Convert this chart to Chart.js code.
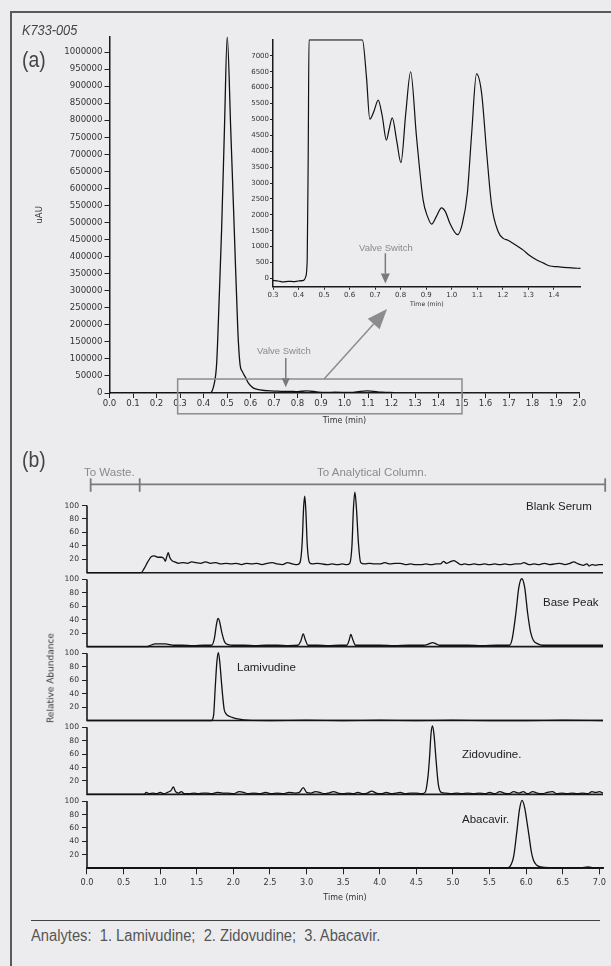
<!DOCTYPE html>
<html><head><meta charset="utf-8"><title>K733-005</title>
<script src="https://cdn.jsdelivr.net/npm/chart.js@4.4.1/dist/chart.umd.min.js"></script>
<style>
html,body{margin:0;padding:0;background:#ececee;}
body{position:relative;width:611px;height:966px;overflow:hidden;font-family:"Liberation Sans",Arial,sans-serif;}
#frame{position:absolute;left:10px;top:11px;width:640px;height:1000px;border-left:2px solid #5a5a5a;border-top:2px solid #5a5a5a;}
canvas{position:absolute;}
.lbl{position:absolute;white-space:nowrap;line-height:1;}
.cond{transform-origin:0 50%;}
.grey{color:#8a8a8a;}
.dark{color:#222;}
#rule{position:absolute;left:31px;top:920px;width:569px;height:0;border-top:1.5px solid #444;}
#relab{position:absolute;left:51px;top:678px;transform:translate(-50%,-50%) rotate(-90deg);white-space:nowrap;
  font-family:"DejaVu Sans",sans-serif;font-size:9px;color:#333;line-height:1;}
</style></head><body>
<div id="frame"></div>
<canvas id="cMain" width="611" height="440" style="left:0;top:0"></canvas>
<canvas id="cInset" width="380" height="300" style="left:230px;top:20px"></canvas>
<canvas id="cB" width="611" height="450" style="left:0;top:470px"></canvas>

<div class="lbl cond" style="left:22px;top:22px;font-size:15px;font-style:italic;color:#444;transform:scaleX(0.85)">K733-005</div>
<div class="lbl cond" style="left:22px;top:49px;font-size:22px;color:#444;transform:scaleX(0.88)">(a)</div>
<div class="lbl cond" style="left:22px;top:449px;font-size:22px;color:#444;transform:scaleX(0.88)">(b)</div>

<div class="lbl grey" style="left:257px;top:346px;font-size:9.5px">Valve Switch</div>
<div class="lbl grey" style="left:359px;top:243px;font-size:9.5px">Valve Switch</div>

<div class="lbl grey" style="left:84px;top:467px;font-size:11.5px">To Waste.</div>
<div class="lbl grey" style="left:317px;top:467px;font-size:11.5px">To Analytical Column.</div>

<div class="lbl dark" style="left:526px;top:501px;font-size:11.5px">Blank Serum</div>
<div class="lbl dark" style="left:543px;top:597px;font-size:11.5px">Base Peak</div>
<div class="lbl dark" style="left:237px;top:662px;font-size:11.5px">Lamivudine</div>
<div class="lbl dark" style="left:462px;top:749px;font-size:11.5px">Zidovudine.</div>
<div class="lbl dark" style="left:462px;top:814px;font-size:11.5px">Abacavir.</div>
<div id="relab">Relative Abundance</div>

<div id="rule"></div>
<div class="lbl cond" style="left:31px;top:928px;font-size:16px;color:#555;transform:scaleX(0.92)">Analytes:&nbsp; 1. Lamivudine;&nbsp; 2. Zidovudine;&nbsp; 3. Abacavir.</div>

<script>
// ================= DATA =================
// Panel (a) main trace
const mainXTicks = [0.0,0.1,0.2,0.3,0.4,0.5,0.6,0.7,0.8,0.9,1.0,1.1,1.2,1.3,1.4,1.5,1.6,1.7,1.8,1.9,2.0];
const mainYTicks = [0,50000,100000,150000,200000,250000,300000,350000,400000,450000,500000,
  550000,600000,650000,700000,750000,800000,850000,900000,950000,1000000];
const mainTime   = [0, 0.10, 0.20, 0.30, 0.40, 0.43, 0.435, 0.445, 0.456, 0.467, 0.477, 0.489, 0.501,
  0.516, 0.531, 0.546, 0.555, 0.566, 0.577, 0.592, 0.611, 0.64, 0.683, 0.715, 0.745, 0.767, 0.80,
  0.84, 0.89, 0.92, 0.96, 1.02, 1.097, 1.16, 1.21];
const mainSignal = [0, 0, 0, 0, 0, 0, 4000, 25000, 87000, 282000, 478000, 771000, 1045000,
  771000, 478000, 185000, 87000, 62000, 48000, 28000, 15000, 9000, 6000, 5600, 4400, 5000, 3700,
  6500, 2500, 1700, 2250, 1400, 6400, 2300, 1200];

// Panel (a) inset (zoomed) trace
const insetXTicks = [0.3,0.4,0.5,0.6,0.7,0.8,0.9,1.0,1.1,1.2,1.3,1.4];
const insetYTicks = [0,500,1000,1500,2000,2500,3000,3500,4000,4500,5000,5500,6000,6500,7000];
const insetTime   = [0.30, 0.32, 0.34, 0.36, 0.38, 0.40, 0.42, 0.428, 0.434, 0.438, 0.441, 0.50, 0.60,
  0.650, 0.666, 0.679, 0.695, 0.712, 0.728, 0.744, 0.755, 0.767, 0.785, 0.801, 0.82, 0.839, 0.862,
  0.888, 0.905, 0.921, 0.94, 0.960, 0.975, 0.993, 1.023, 1.041, 1.061, 1.078, 1.097, 1.117, 1.137,
  1.156, 1.182, 1.202, 1.22, 1.241, 1.26, 1.280, 1.305, 1.333, 1.36, 1.385, 1.41, 1.437, 1.47, 1.505];
const insetSignal = [-60, -80, -110, -90, -100, -80, -60, 50, 600, 4000, 7500, 7500, 7500,
  7500, 6340, 5010, 5250, 5610, 5100, 4350, 4700, 5050, 4300, 3640, 5200, 6500, 4450,
  2460, 1950, 1710, 1950, 2220, 2100, 1730, 1380, 1710, 2670, 4560, 6430, 5820, 3930,
  2310, 1470, 1260, 1200, 1100, 1000, 890, 720, 580, 480, 390, 370, 350, 330, 315];

// Panel (b) — [time (min), relative abundance]
const bXTicks = [0.0,0.5,1.0,1.5,2.0,2.5,3.0,3.5,4.0,4.5,5.0,5.5,6.0,6.5,7.0];
const bYTicks = [20,40,60,80,100];
const blankSerum = [[0.00,0],[0.74,0],[0.78,6],[0.83,16],[0.88,24],[0.92,25],[0.97,23],[1.02,23],[1.05,21],
  [1.07,17],[1.09,24],[1.11,30],[1.13,23],[1.16,18],[1.20,16],[1.25,14],[1.31,15],[1.37,14],[1.43,16],
  [1.49,15],[1.55,14],[1.62,16],[1.69,14],[1.76,15],[1.83,13],[1.90,14],[1.97,13],[2.04,14],[2.11,12],
  [2.18,14],[2.25,13],[2.32,14],[2.39,12],[2.46,14],[2.53,15],[2.60,13],[2.67,12],[2.74,15],[2.81,13],
  [2.87,12],[2.91,15],[2.94,45],[2.96,98],[2.975,114],[2.99,92],[3.01,40],[3.04,15],[3.08,13],[3.14,14],
  [3.21,13],[3.28,12],[3.35,13],[3.42,12],[3.49,13],[3.55,12],[3.59,14],[3.62,40],[3.64,95],[3.66,120],
  [3.68,98],[3.71,42],[3.74,15],[3.79,13],[3.86,14],[3.93,13],[4.00,13],[4.07,15],[4.14,13],[4.21,14],
  [4.28,14],[4.35,12],[4.42,13],[4.49,12],[4.56,12],[4.63,13],[4.70,12],[4.77,13],[4.83,13],[4.87,17],
  [4.91,14],[4.96,16],[5.01,18],[5.06,15],[5.11,12],[5.16,13],[5.22,12],[5.29,13],[5.36,12],[5.43,13],
  [5.50,12],[5.57,13],[5.64,12],[5.71,13],[5.78,12],[5.85,13],[5.92,13],[5.97,15],[6.04,12],[6.11,13],
  [6.18,12],[6.25,14],[6.32,12],[6.39,13],[6.46,14],[6.53,12],[6.60,14],[6.65,16],[6.71,13],[6.78,11],
  [6.83,13],[6.86,10],[6.90,12],[6.95,11],[7.00,12],[7.05,12]];
const basePeak = [[0,0],[0.82,0],[0.87,2],[0.93,4],[1.00,4],[1.07,4],[1.13,3],[1.18,2],[1.30,2],[1.45,1.5],
  [1.60,2],[1.70,2],[1.74,12],[1.77,34],[1.79,42],[1.81,38],[1.84,22],[1.88,7],[1.93,3],[2.00,2],
  [2.15,2],[2.30,1.5],[2.45,2],[2.60,2],[2.75,1.5],[2.88,2],[2.92,8],[2.955,19],[2.98,11],[3.02,2],
  [3.15,2],[3.30,1.5],[3.45,2],[3.55,2],[3.58,9],[3.605,18],[3.63,11],[3.67,2],[3.80,2],[4.00,2],
  [4.20,1.5],[4.40,2],[4.60,2],[4.67,4],[4.72,6],[4.77,4],[4.82,2],[5.00,2],[5.20,2],[5.40,1.5],
  [5.60,2],[5.77,2],[5.81,12],[5.86,50],[5.90,88],[5.94,101],[5.98,88],[6.02,50],[6.06,22],[6.10,9],
  [6.16,4],[6.22,2],[6.40,2],[6.60,2],[6.80,2],[7.05,2]];
const lamivudine = [[0,0],[1.70,0],[1.73,8],[1.75,45],[1.775,88],[1.795,101],[1.815,86],[1.835,60],
  [1.855,35],[1.875,16],[1.90,10],[1.95,6],[2.00,4],[2.08,2],[2.20,0.5],[2.50,0],[3.00,0.5],[3.50,0],
  [4.00,0.5],[4.50,0],[5.00,0.5],[5.50,0],[6.00,0],[6.50,0.5],[7.05,0]];
const zidovudine = [[0,0],[0.78,0],[0.81,3],[0.85,1],[0.90,2],[0.95,1],[1.00,3],[1.05,1],[1.10,3],[1.15,6],
  [1.18,11],[1.21,4],[1.25,2],[1.29,4],[1.33,1],[1.40,1],[1.46,2],[1.52,1],[1.58,2],[1.64,2],
  [1.70,1],[1.78,3],[1.85,2],[1.92,2],[2.00,1],[2.08,4],[2.14,3],[2.20,1],[2.28,2],[2.36,1],
  [2.44,3],[2.52,1],[2.60,2],[2.68,1],[2.76,3],[2.84,2],[2.90,3],[2.955,10],[3.00,3],[3.06,2],
  [3.12,4],[3.18,3],[3.24,1],[3.30,2],[3.37,4],[3.43,2],[3.50,1],[3.57,2],[3.64,1],[3.70,3],
  [3.77,1],[3.83,2],[3.89,5],[3.95,2],[4.02,1],[4.09,3],[4.16,1],[4.22,2],[4.28,3],[4.35,1],
  [4.42,2],[4.50,2],[4.56,1],[4.62,3],[4.66,28],[4.68,55],[4.70,90],[4.72,102],[4.74,90],[4.77,50],
  [4.80,15],[4.84,3],[4.90,2],[4.98,1],[5.05,2],[5.12,1],[5.20,2],[5.28,1],[5.36,2],[5.44,1],
  [5.50,3],[5.57,1],[5.64,4],[5.70,2],[5.76,1],[5.83,4],[5.90,2],[5.96,4],[6.02,1],[6.09,4],
  [6.15,2],[6.22,1],[6.29,3],[6.36,4],[6.42,1],[6.49,2],[6.56,1],[6.63,2],[6.70,1],[6.77,2],
  [6.84,1],[6.90,4],[6.95,3],[7.00,4],[7.05,2]];
const abacavir = [[0,0],[5.72,0],[5.78,3],[5.83,18],[5.87,52],[5.91,88],[5.945,101],[5.98,90],[6.01,70],
  [6.04,48],[6.07,25],[6.10,12],[6.14,5],[6.20,2],[6.35,1],[6.50,0.5],[6.75,1],[6.85,2],[6.92,1],[7.05,1]];
const panelSeries = [blankSerum, basePeak, lamivudine, zidovudine, abacavir];

// Annotation positions (data units)
const zoomBox = {x0:0.29, x1:1.50, yTop:41000, yBottom:-61000};
const valveMain = {x:0.75, yFrom:103000, yTo:17000};
const zoomArrow = {x0:0.913, y0:41000, x1:1.181, y1:246000};
const valveInset = {x:0.74, yFrom:790, yTo:-160};
const flowBracket = {start:0.05, switchAt:0.72, end:7.08};

// ================= CHARTS =================
Chart.defaults.font.family = 'DejaVu Sans';
Chart.defaults.color = '#333';
const pairs = (xs, ys) => xs.map((t, i) => ({x: t, y: ys[i]}));
const fixTicks = arr => (s => { s.ticks = arr.map(v => ({value: v})); });

function arrow(ctx, x0, y0, x1, y1, len, half) {
  ctx.beginPath(); ctx.moveTo(x0, y0);
  const a = Math.atan2(y1 - y0, x1 - x0);
  const bx = x1 - len * Math.cos(a), by = y1 - len * Math.sin(a);
  ctx.lineTo(bx, by); ctx.stroke();
  ctx.beginPath(); ctx.moveTo(x1, y1);
  ctx.lineTo(bx + half * Math.sin(a), by - half * Math.cos(a));
  ctx.lineTo(bx - half * Math.sin(a), by + half * Math.cos(a));
  ctx.closePath(); ctx.fill();
}

const mainAnnot = {
  id: 'mainAnnot',
  afterDatasetsDraw(chart) {
    const {ctx, scales: {x, y}} = chart;
    ctx.save();
    ctx.strokeStyle = '#8c8c8c'; ctx.fillStyle = '#8c8c8c'; ctx.lineWidth = 1.5;
    const bx0 = x.getPixelForValue(zoomBox.x0), bx1 = x.getPixelForValue(zoomBox.x1);
    const by0 = y.getPixelForValue(zoomBox.yTop), by1 = y.getPixelForValue(zoomBox.yBottom);
    ctx.strokeRect(bx0, by0, bx1 - bx0, by1 - by0);
    ctx.strokeStyle = '#7a7a7a'; ctx.fillStyle = '#7a7a7a';
    arrow(ctx, x.getPixelForValue(valveMain.x), y.getPixelForValue(valveMain.yFrom),
      x.getPixelForValue(valveMain.x), y.getPixelForValue(valveMain.yTo), 9, 4);
    ctx.strokeStyle = '#8c8c8c'; ctx.fillStyle = '#8c8c8c';
    arrow(ctx, x.getPixelForValue(zoomArrow.x0), y.getPixelForValue(zoomArrow.y0),
      x.getPixelForValue(zoomArrow.x1), y.getPixelForValue(zoomArrow.y1), 20, 8);
    ctx.restore();
  }
};

const insetAnnot = {
  id: 'insetAnnot',
  afterDatasetsDraw(chart) {
    const {ctx, scales: {x, y}} = chart;
    ctx.save();
    ctx.strokeStyle = '#7a7a7a'; ctx.fillStyle = '#7a7a7a'; ctx.lineWidth = 1.5;
    arrow(ctx, x.getPixelForValue(valveInset.x), y.getPixelForValue(valveInset.yFrom),
      x.getPixelForValue(valveInset.x), y.getPixelForValue(valveInset.yTo), 10, 4.5);
    ctx.restore();
  }
};

const axisCommon = (tickLength) => ({
  grid: {display: true, drawOnChartArea: false, drawTicks: true, tickLength, color: '#222', lineWidth: 1},
  border: {display: true, color: '#1a1a1a', width: 1.5}
});

new Chart(document.getElementById('cMain'), {
  type: 'line',
  data: {datasets: [{data: pairs(mainTime, mainSignal), borderColor: '#111', borderWidth: 1.3,
    pointRadius: 0, cubicInterpolationMode: 'monotone', fill: false}]},
  options: {
    responsive: false, animation: false, devicePixelRatio: 1,
    layout: {padding: {left: 31, right: 31.5, top: 36.7, bottom: 10}},
    plugins: {legend: {display: false}, tooltip: {enabled: false}},
    scales: {
      x: Object.assign(axisCommon(5), {type: 'linear', min: 0, max: 2.0,
        afterBuildTicks: fixTicks(mainXTicks), afterFit: s => { s.height = 37; },
        ticks: {font: {size: 8.6}, padding: 1, maxRotation: 0, autoSkip: false, callback: v => v.toFixed(1)},
        title: {display: true, text: 'Time (min)', font: {size: 8}}}),
      y: Object.assign(axisCommon(5), {type: 'linear', min: 0, max: 1045000,
        afterBuildTicks: fixTicks(mainYTicks), afterFit: s => { s.width = 78.5; },
        ticks: {font: {size: 8.6}, padding: 2, autoSkip: false, callback: v => String(v)},
        title: {display: true, text: 'uAU', font: {size: 8.5}}})
    }
  },
  plugins: [mainAnnot]
});

new Chart(document.getElementById('cInset'), {
  type: 'line',
  data: {datasets: [{data: pairs(insetTime, insetSignal), borderColor: '#111', borderWidth: 1.2,
    pointRadius: 0, cubicInterpolationMode: 'monotone', fill: false}]},
  options: {
    responsive: false, animation: false, devicePixelRatio: 1,
    layout: {padding: {left: 0, right: 29.3, top: 19.3, bottom: 8.3}},
    plugins: {legend: {display: false}, tooltip: {enabled: false}},
    scales: {
      x: Object.assign(axisCommon(3), {type: 'linear', min: 0.3, max: 1.505,
        afterBuildTicks: fixTicks(insetXTicks), afterFit: s => { s.height = 25; },
        ticks: {font: {size: 7}, padding: 1.5, maxRotation: 0, autoSkip: false, callback: v => v.toFixed(1)},
        title: {display: true, text: 'Time (min)', font: {size: 6.2}}}),
      y: Object.assign(axisCommon(3), {type: 'linear', min: -260, max: 7520,
        afterBuildTicks: fixTicks(insetYTicks), afterFit: s => { s.width = 43; },
        ticks: {font: {size: 7}, padding: 1, autoSkip: false, callback: v => String(v)}})
    }
  },
  plugins: [insetAnnot]
});

const panelIds = ['p1', 'p2', 'p3', 'p4', 'p5'];
const bScales = {
  x: {type: 'linear', min: 0, max: 7.05, position: 'bottom',
    afterBuildTicks: fixTicks(bXTicks), afterFit: s => { s.height = 38.2; },
    grid: {display: true, drawOnChartArea: false, drawTicks: true, tickLength: 6, color: '#222', lineWidth: 1},
    border: {display: true, color: '#111', width: 1.8},
    ticks: {font: {size: 8.2}, padding: 4, maxRotation: 0, autoSkip: false, callback: v => v.toFixed(1)},
    title: {display: true, text: 'Time (min)', font: {size: 8}}}
};
panelIds.forEach((id, i) => {
  bScales[id] = {type: 'linear', position: 'left', stack: 'panels', stackWeight: 1, weight: 5 - i,
    min: 0, max: 110, afterBuildTicks: fixTicks(bYTicks), afterFit: s => { s.width = 44.4; },
    grid: {display: true, drawOnChartArea: false, drawTicks: true, tickLength: 5, color: '#222', lineWidth: 1},
    border: {display: false},
    ticks: {font: {size: 7.6}, padding: 3, autoSkip: false, callback: v => String(v)}};
});

const panelFrame = {
  id: 'panelFrame',
  beforeDatasetsDraw(chart) {
    const {ctx, scales} = chart;
    const x = scales.x;
    ctx.save();
    ctx.strokeStyle = '#1a1a1a'; ctx.lineWidth = 1.6;
    panelIds.forEach(id => {
      const s = scales[id];
      const y0 = s.getPixelForValue(0), yT = s.getPixelForValue(100);
      ctx.beginPath(); ctx.moveTo(x.left, yT); ctx.lineTo(x.left, y0); ctx.lineTo(x.right, y0); ctx.stroke();
    });
    // flow bracket above the panels
    const yl = chart.chartArea.top - 14.5;
    ctx.strokeStyle = '#7a7a7a'; ctx.lineWidth = 1.8;
    const xs = x.getPixelForValue(flowBracket.start), xm = x.getPixelForValue(flowBracket.switchAt),
          xe = x.getPixelForValue(flowBracket.end);
    ctx.beginPath(); ctx.moveTo(xs, yl); ctx.lineTo(xe, yl); ctx.stroke();
    [xs, xm, xe].forEach(px => { ctx.beginPath(); ctx.moveTo(px, yl - 6); ctx.lineTo(px, yl + 7.5); ctx.stroke(); });
    ctx.restore();
  }
};

new Chart(document.getElementById('cB'), {
  type: 'line',
  data: {datasets: panelSeries.map((ser, i) => ({
    data: ser.map(p => ({x: p[0], y: p[1]})), yAxisID: panelIds[i],
    borderColor: '#111', borderWidth: 1.3, pointRadius: 0, cubicInterpolationMode: 'monotone',
    fill: false, clip: false}))},
  options: {
    responsive: false, animation: false, devicePixelRatio: 1,
    layout: {padding: {left: 42.6, right: 8, top: 28.8, bottom: 13.5}},
    plugins: {legend: {display: false}, tooltip: {enabled: false}},
    scales: bScales
  },
  plugins: [panelFrame]
});
</script>
</body></html>
